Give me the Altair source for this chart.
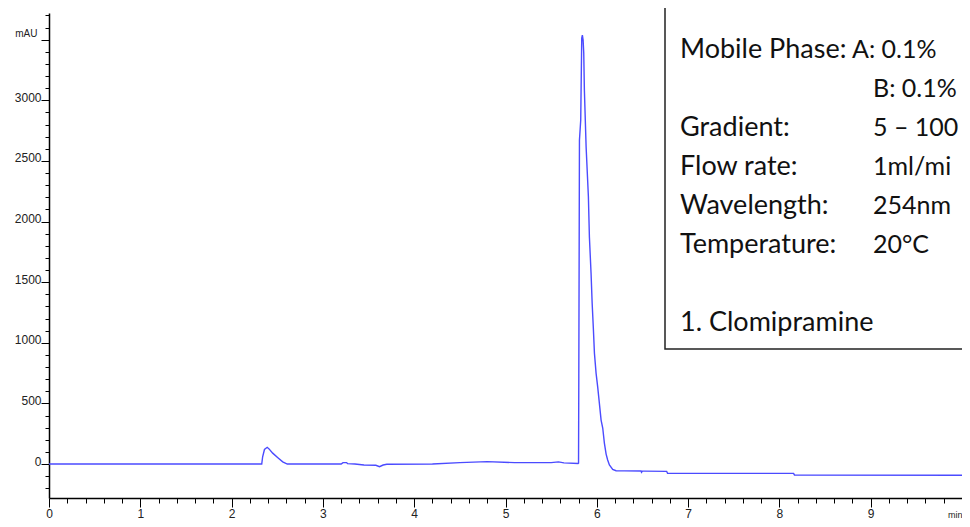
import altair as alt
import pandas as pd

# Chromatogram trace (time in min, absorbance in mAU)
times = [0, 2.33, 2.34, 2.36, 2.39, 2.41, 2.45, 2.51, 2.56, 2.61,
         3.20, 3.22, 3.26, 3.27, 3.35, 3.45, 3.58, 3.62, 3.66, 3.70,
         4.20, 4.50, 4.80, 5.10, 5.50, 5.58, 5.64, 5.795, 5.800, 5.803,
         5.810, 5.824, 5.835, 5.842, 5.850, 5.857, 5.864, 5.883, 5.908, 5.919,
         5.937, 5.949, 5.963, 5.974, 5.992, 6.010, 6.028, 6.047, 6.065, 6.083,
         6.102, 6.119, 6.138, 6.174, 6.211, 6.30, 6.485, 6.49, 6.50, 6.52,
         6.765, 6.775, 8.155, 8.165, 10.08]
mau = [0, 0, 60, 120, 138, 125, 90, 50, 18, 0,
       0, 12, 12, 3, 0, -8, -10, -22, -8, -2,
       0, 12, 20, 12, 12, 18, 10, 5, 8, 720,
       2672, 2837, 3513, 3538, 3497, 3390, 3085, 2614, 2202, 1872,
       1575, 1328, 1105, 915, 750, 635, 503, 363, 297, 173,
       82, 33, -8, -44, -55, -56, -57, -68, -58, -58,
       -60, -77, -77, -90, -92]

x_major = list(range(0, 11))
x_minor = [round(i * 0.2, 1) for i in range(1, 50) if i % 5 != 0]
y_major = list(range(0, 3501, 500))
y_minor = [v for v in range(-200, 3701, 100) if v % 500 != 0]

box_left = ["Mobile Phase:", "", "Gradient:", "Flow rate:", "Wavelength:", "Temperature:", "", "1. Clomipramine"]
box_right = ["A: 0.1%", "B: 0.1%", "5 \u2013 100", "1ml/mi", "254nm", "20\u00b0C", "", ""]

df = pd.DataFrame({"t": times, "v": mau})

X_DOMAIN = [0, 10.0]
Y_DOMAIN = [-280, 3720]
FONT = "Liberation Sans"
BOX_FONT = "Lato"

xs = alt.Scale(domain=X_DOMAIN, nice=False, zero=False)
ys = alt.Scale(domain=Y_DOMAIN, nice=False, zero=False)

trace = alt.Chart(df).mark_line(color="#4b4bff", strokeWidth=1.4, clip=True).encode(
    x=alt.X("t:Q", scale=xs, axis=alt.Axis(
        orient="bottom", values=x_major, title=None, grid=False,
        domainColor="#000", domainWidth=1.5, tickColor="#000", tickSize=9, tickWidth=1,
        tickOpacity={"condition": {"test": "datum.value == 10", "value": 0}, "value": 1},
        labelExpr="datum.value == 10 ? 'min' : datum.label",
        labelFont=FONT, labelColor="#222",
        labelFontSize={"condition": {"test": "datum.value == 10", "value": 9}, "value": 12},
        labelPadding={"condition": {"test": "datum.value == 10", "value": 3}, "value": 1},
        labelAlign={"condition": {"test": "datum.value == 10", "value": "right"}, "value": "center"},
        labelFlush=False, labelOverlap=False)),
    y=alt.Y("v:Q", scale=ys, axis=alt.Axis(
        orient="left", values=y_major, title=None, grid=False,
        domainColor="#000", domainWidth=1.5, tickColor="#000", tickSize=8, tickWidth=1,
        labelExpr="datum.value == 3500 ? 'mAU' : datum.label",
        labelFont=FONT, labelColor="#222",
        labelFontSize={"condition": {"test": "datum.value == 3500", "value": 10}, "value": 12},
        labelPadding={"condition": {"test": "datum.value == 3500", "value": 4}, "value": 0},
        labelOffset={"condition": {"test": "datum.value == 3500", "value": -3}, "value": 1},
        labelBaseline="alphabetic",
        labelFlush=False, labelOverlap=False, format="d")),
)

minor = alt.Chart(df).mark_line(opacity=0).encode(
    x=alt.X("t:Q", scale=xs, axis=alt.Axis(
        orient="bottom", values=x_minor, title=None, grid=False, domain=False,
        labels=False, tickColor="#000", tickSize=5, tickWidth=1)),
    y=alt.Y("v:Q", scale=ys, axis=alt.Axis(
        orient="left", values=y_minor, title=None, grid=False, domain=False,
        labels=False, tickColor="#000", tickSize=4, tickWidth=1)),
)

box = alt.Chart(pd.DataFrame({"a": [0]})).mark_rect(
    fill="white", stroke="#222", strokeWidth=1.5
).encode(x=alt.value(616), x2=alt.value(920), y=alt.value(-20), y2=alt.value(336))

texts = []
for i, (l, r) in enumerate(zip(box_left, box_right)):
    yy = 37 + 39 * i
    if l:
        texts.append(alt.Chart(pd.DataFrame({"a": [0]})).mark_text(
            text=l, align="left", baseline="middle", font=BOX_FONT, fontSize=27, color="#111"
        ).encode(x=alt.value(631), y=alt.value(yy)))
    if r:
        texts.append(alt.Chart(pd.DataFrame({"a": [0]})).mark_text(
            text=r, align="left", baseline="middle", font=BOX_FONT, fontSize=25, color="#111"
        ).encode(x=alt.value(803 if i == 0 else 824), y=alt.value(yy)))

chart = alt.layer(trace, minor, box, *texts).resolve_axis(
    x="independent", y="independent"
).properties(
    width=913, height=485,
    autosize=alt.AutoSizeParams(type="none"),
    padding={"left": 41, "top": 5, "right": 0, "bottom": 21},
    background="white",
).configure_view(stroke=None)

chart.save("out.html", embed_options={"renderer": "svg", "actions": False})
